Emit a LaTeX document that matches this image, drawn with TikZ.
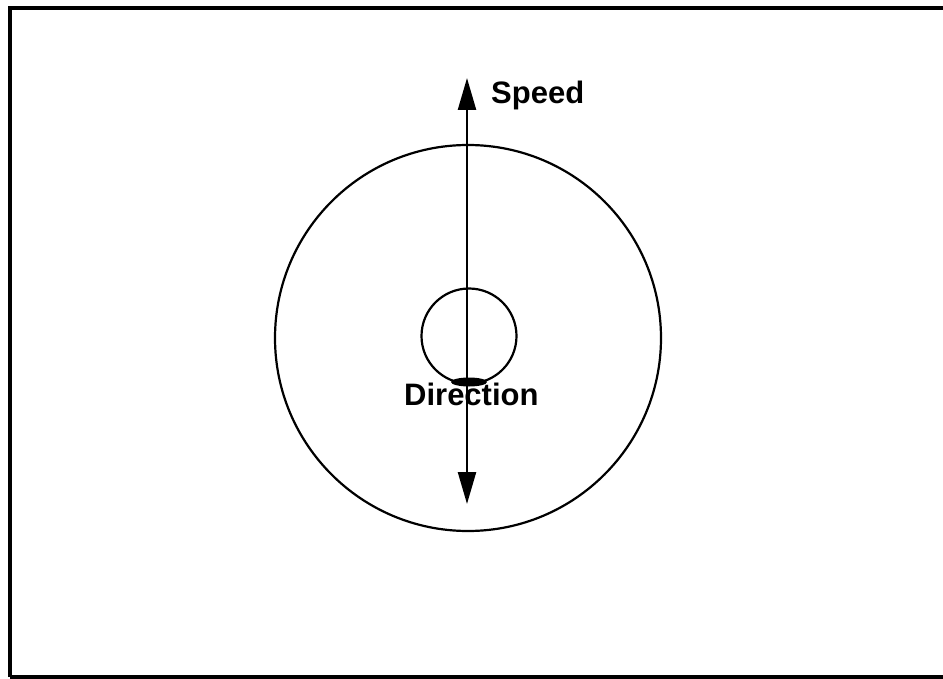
\documentclass[tikz,border=0pt]{standalone}
\usepackage{fontspec}
\setmainfont{Liberation Sans}
\usetikzlibrary{arrows.meta}
\begin{document}
\begin{tikzpicture}[x=1pt,y=-1pt,
  ring/.style={circle,draw,line width=2.2pt,inner sep=0pt},
  lbl/.style={font=\bfseries\fontsize{31}{32}\selectfont,inner sep=0pt},
  frameline/.style={line width=4pt}]
\useasboundingbox (0,0) rectangle (943,679);
% frame
\coordinate (f1) at (10,677);
\coordinate (f2) at (10,8);
\coordinate (f3) at (945,8);
\coordinate (f4) at (945,677);
\draw[frameline] (f1) -- (f2) -- (f3);
\draw[frameline] (f1) -- (f4);
% circles
\node[ring,minimum size=386pt] (outer) at (468,338) {};
\node[ring,minimum size=95pt] (inner) at (469,336) {};
% arrow
\coordinate (top) at (467,78);
\coordinate (bot) at (467,504);
\draw[line width=2.4pt,{Triangle[length=32pt,width=18pt]}-{Triangle[length=32pt,width=18pt]}] (top) -- (bot);
% blob
\fill (469,382) ellipse[x radius=18pt,y radius=4.5pt];
% labels
\node[lbl,anchor=base west] (speed) at (491,104) {Speed};
\node[lbl,anchor=base west] (dir) at (404,405) {Direction};
\end{tikzpicture}
\end{document}
